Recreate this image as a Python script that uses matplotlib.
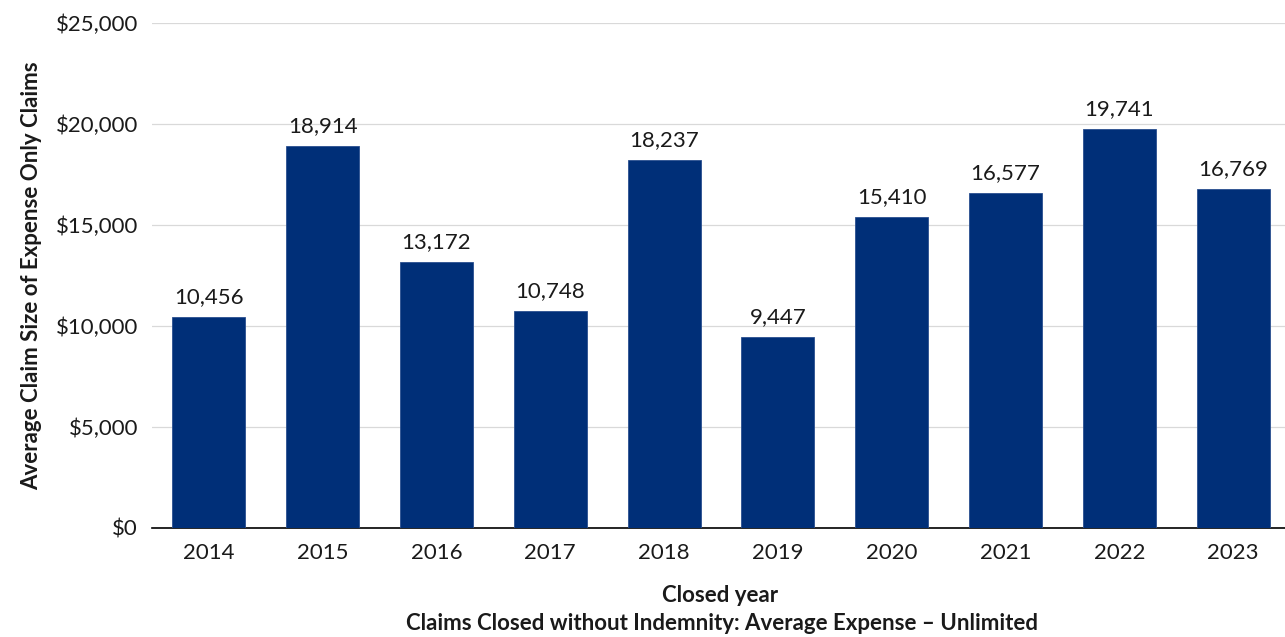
import matplotlib
matplotlib.use("Agg")
import matplotlib.pyplot as plt
from matplotlib.ticker import FuncFormatter, MultipleLocator

years = ["2014", "2015", "2016", "2017", "2018", "2019", "2020", "2021", "2022", "2023"]
avg_expense = [10456, 18914, 13172, 10748, 18237, 9447, 15410, 16577, 19741, 16769]

plt.rcParams["font.family"] = ["Lato", "DejaVu Sans"]
FS = 16

fig = plt.figure(figsize=(12.85, 6.37), dpi=100)
ax = fig.add_axes([152 / 1285, 1 - 528 / 637, (1290 - 152) / 1285, (528 - 23) / 637])

x = range(len(years))
ax.bar(x, avg_expense, width=0.64, color="#002F78", edgecolor="#2A4F8F",
       linewidth=0.6, zorder=3)

for xi, v in zip(x, avg_expense):
    ax.text(xi, v + 480, f"{v:,}", ha="center", va="bottom", fontsize=FS,
            color="#1a1a1a")

ax.set_xlim(-0.5, len(years) - 0.5)
ax.set_ylim(0, 25000)
ax.yaxis.set_major_locator(MultipleLocator(5000))
ax.yaxis.set_major_formatter(FuncFormatter(lambda v, _: f"${v:,.0f}"))
ax.set_xticks(list(x))
ax.set_xticklabels(years)

ax.grid(axis="y", color="#d9d9d9", linewidth=0.9, zorder=0)
for side in ("top", "right", "left"):
    ax.spines[side].set_visible(False)
ax.spines["bottom"].set_color("#000000")
ax.spines["bottom"].set_linewidth(1.2)
ax.tick_params(axis="both", length=0, labelsize=FS, labelcolor="#1a1a1a")
ax.tick_params(axis="x", pad=11)
ax.tick_params(axis="y", pad=10)

ax.set_ylabel("Average Claim Size of Expense Only Claims", fontsize=FS,
              fontweight="bold", color="#1a1a1a", labelpad=10)

fig.text(720 / 1285, 1 - 595 / 637, "Closed year", ha="center",
         va="center", fontsize=FS, fontweight="bold", color="#1a1a1a")
fig.text(722 / 1285, 1 - 624 / 637,
         "Claims Closed without Indemnity: Average Expense \u2013 Unlimited",
         ha="center", va="center", fontsize=FS, fontweight="bold", color="#1a1a1a")

fig.savefig("out.png", dpi=100)
